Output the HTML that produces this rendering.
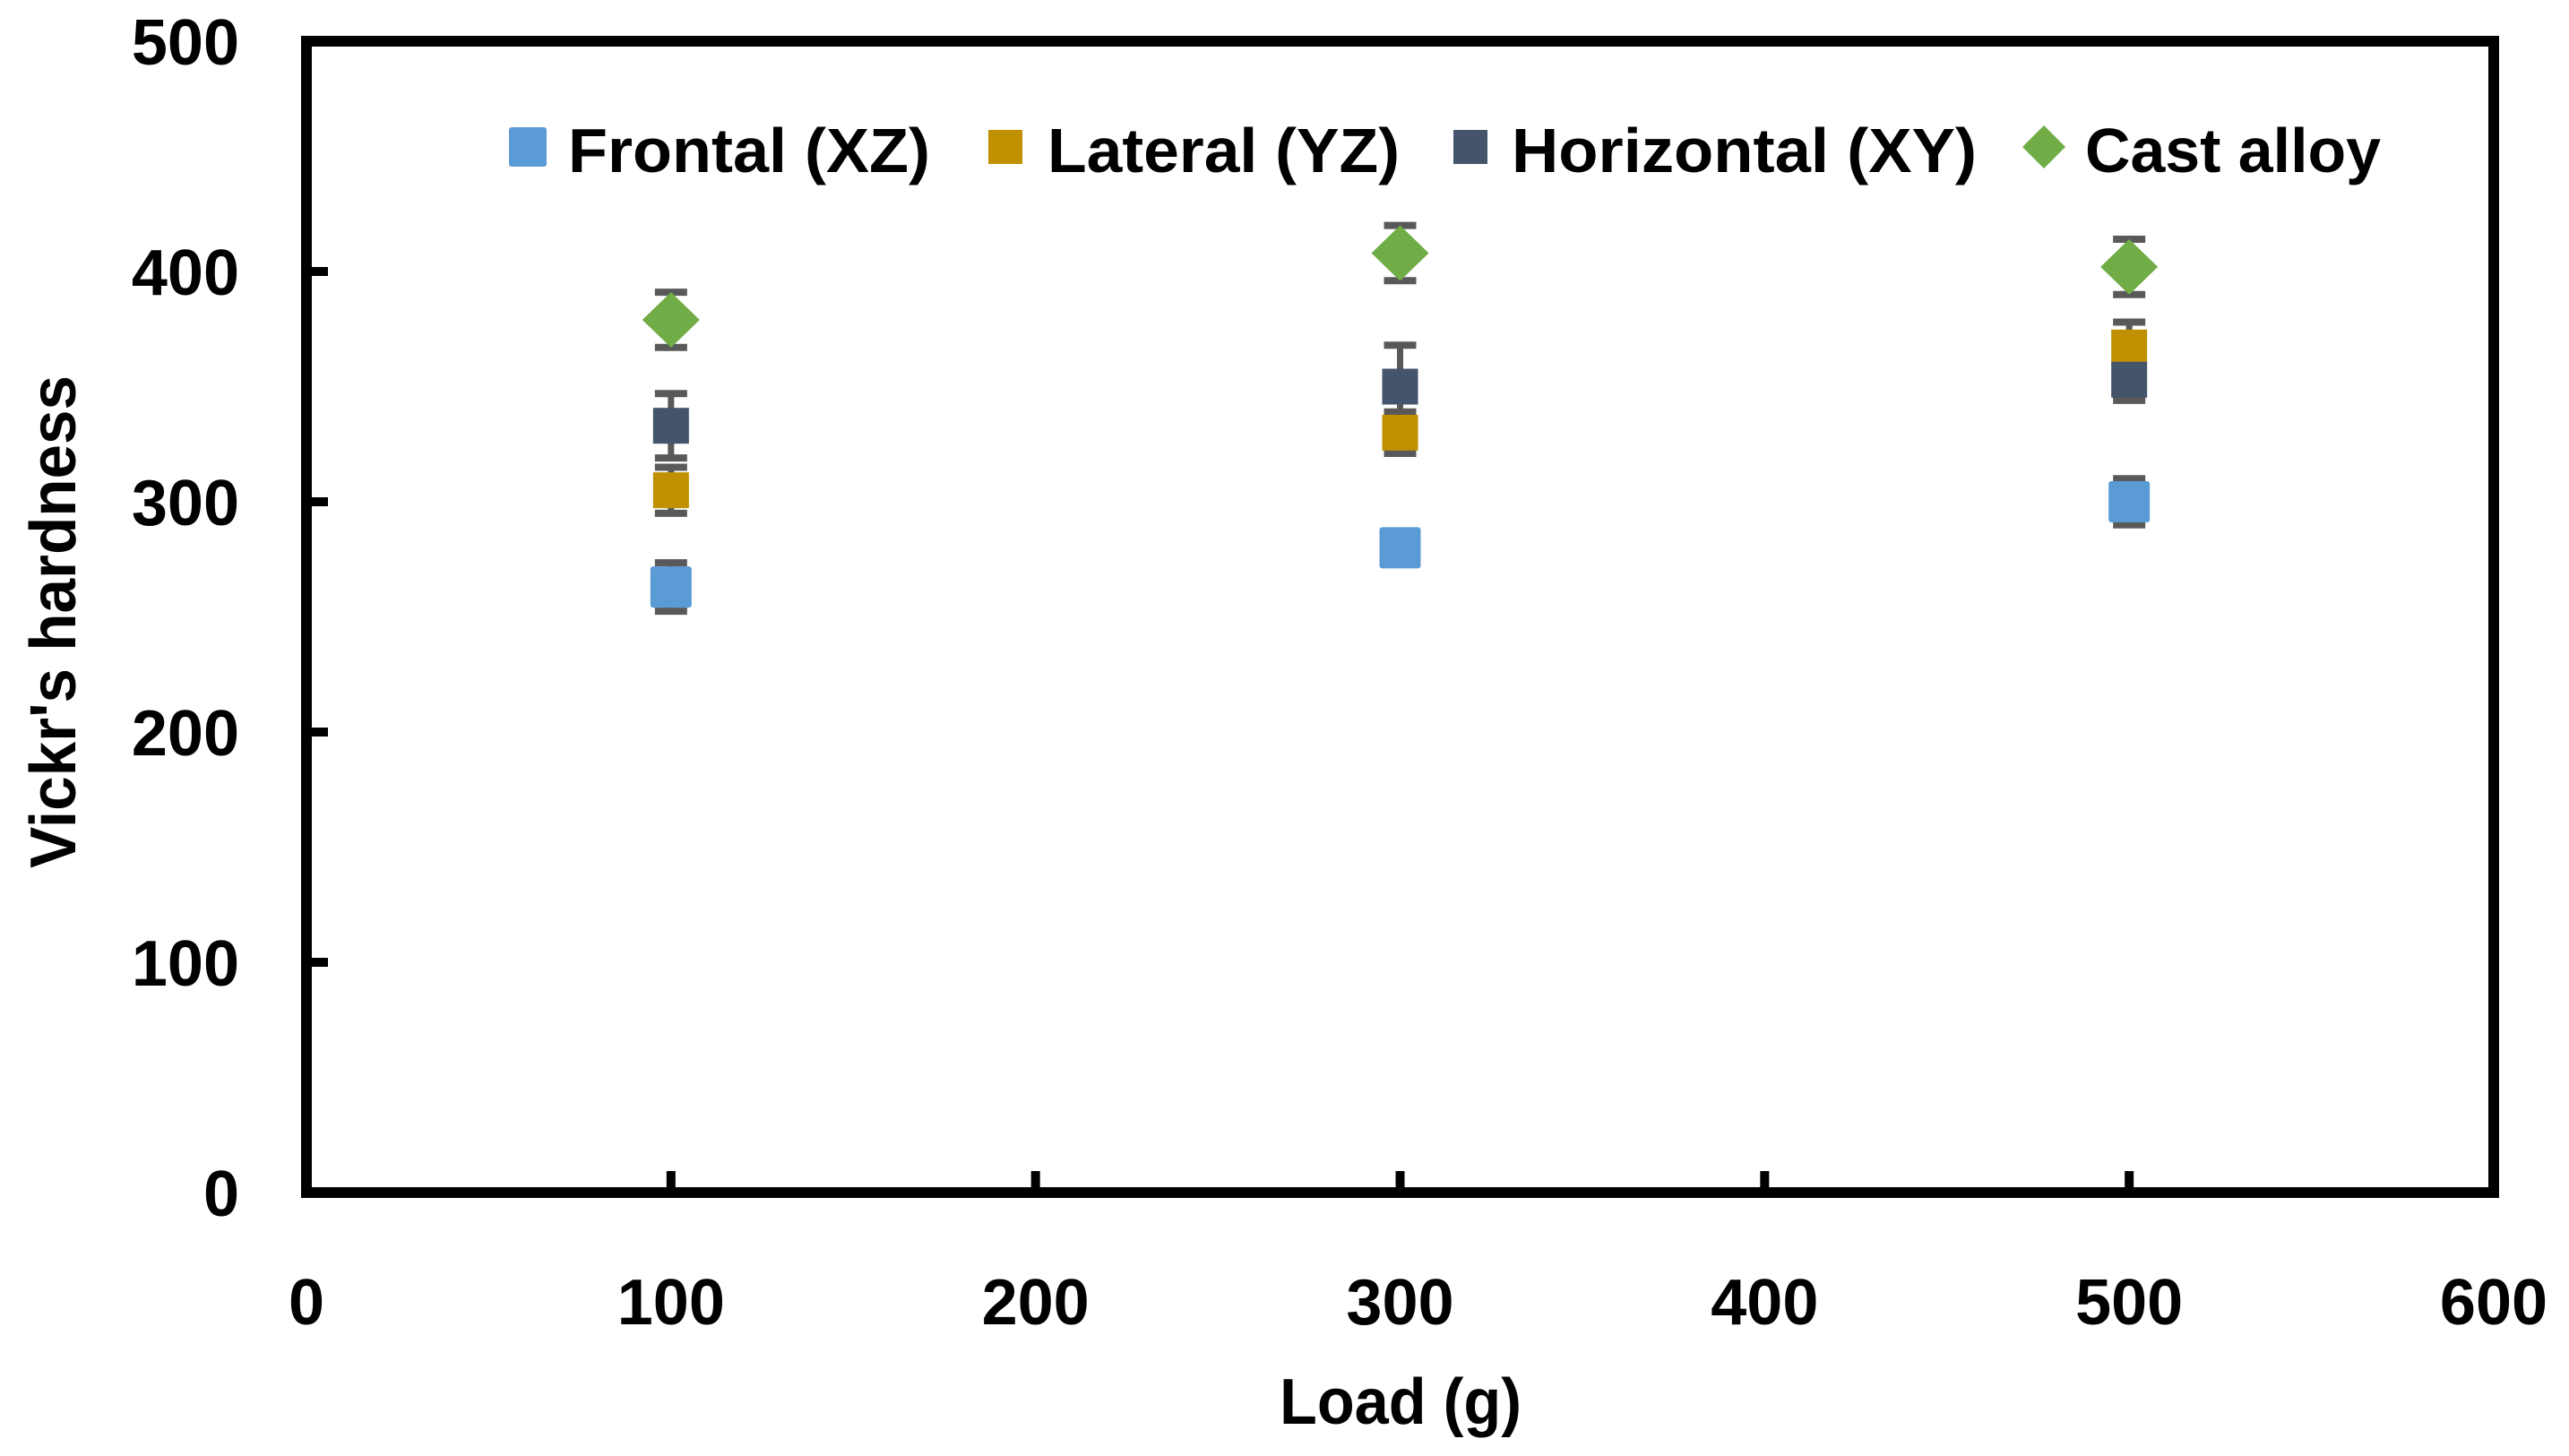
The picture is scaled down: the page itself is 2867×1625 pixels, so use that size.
<!DOCTYPE html>
<html><head><meta charset="utf-8"><style>
html,body{margin:0;padding:0;background:#fff;}
svg{display:block;}
text{font-family:"Liberation Sans",sans-serif;font-weight:bold;fill:#000;}
</style></head><body>
<svg id="chart" width="2867" height="1625" viewBox="0 0 2867 1625" xmlns="http://www.w3.org/2000/svg">
<rect width="2867" height="1625" fill="#fff"/>
<g id="grid-layer"></g>
<g id="err-layer"></g>
<g id="mark-layer"></g>
<rect x="342" y="46" width="2441" height="1285" fill="none" stroke="#000" stroke-width="12"/>
<g id="axis-layer"></g>
<text x="1428" y="1589" font-size="72" textLength="270" lengthAdjust="spacingAndGlyphs">Load (g)</text>
<text transform="translate(84,969) rotate(-90)" x="0" y="0" font-size="72" textLength="550" lengthAdjust="spacingAndGlyphs">Vickr's hardness</text>
<g>
<g>
<rect x="568" y="142" width="42" height="44" rx="3" fill="#5B9BD5"/>
<text x="634" y="192" font-size="70" textLength="404" lengthAdjust="spacingAndGlyphs">Frontal (XZ)</text></g>
<g>
<rect x="1103" y="145" width="38" height="38" fill="#BF9000"/>
<text x="1169" y="192" font-size="70" textLength="393" lengthAdjust="spacingAndGlyphs">Lateral (YZ)</text></g>
<g>
<rect x="1622" y="145" width="38" height="38" fill="#44546A"/>
<text x="1687" y="192" font-size="70" textLength="519" lengthAdjust="spacingAndGlyphs">Horizontal (XY)</text></g>
<g>
<polygon points="2281,140 2305,164 2281,188 2257,164" fill="#70AD47"/>
<text x="2327" y="192" font-size="70" textLength="330" lengthAdjust="spacingAndGlyphs">Cast alloy</text></g>
</g>
</svg>
<script>
const loads = [100, 300, 500];
const frontal = [263, 280, 300];
const frontalErr = [10.5, 3, 10];
const lateral = [305, 330, 367];
const lateralErr = [10, 9, 11];
const horizontal = [333, 350, 353];
const horizontalErr = [14, 18, 9];
const castAlloy = [379, 408, 402];
const castAlloyErr = [12, 12, 12];
const xTicks = [0, 100, 200, 300, 400, 500, 600];
const yTicks = [0, 100, 200, 300, 400, 500];

const NS = 'http://www.w3.org/2000/svg';
const X0 = 342, X1 = 2783, Y0 = 1331, Y1 = 46;
function sx(v){ return X0 + (v - 0) / 600 * (X1 - X0); }
function sy(v){ return Y0 - (v - 0) / 500 * (Y0 - Y1); }
function mk(tag, attrs, parent){
  const e = document.createElementNS(NS, tag);
  for (const k in attrs) e.setAttribute(k, attrs[k]);
  parent.appendChild(e);
  return e;
}
const axis = document.getElementById('axis-layer');
xTicks.forEach(t => {
  const x = sx(t);
  if (t > 0 && t < 600) {
    const tk = mk('line', {x1:x, x2:x, y1:Y0, y2:Y0-24, stroke:'#000', 'stroke-width':10}, axis);
    
    
  }
  const lb = mk('text', {x:x, y:1478, 'font-size':72, 'text-anchor':'middle'}, axis);
  lb.textContent = t;
  
  
});
yTicks.forEach(t => {
  const y = sy(t);
  if (t > 0 && t < 500) {
    const tk = mk('line', {x1:X0, x2:X0+24, y1:y, y2:y, stroke:'#000', 'stroke-width':10}, axis);
    
    
  }
  const lb = mk('text', {x:267, y:y+26, 'font-size':72, 'text-anchor':'end'}, axis);
  lb.textContent = t;
  
  
});

const errL = document.getElementById('err-layer');
const markL = document.getElementById('mark-layer');
const series = [
  {name:'frontal', vals:frontal, err:frontalErr, color:'#5B9BD5', size:46, shape:'sq'},
  {name:'lateral', vals:lateral, err:lateralErr, color:'#BF9000', size:40, shape:'sq'},
  {name:'horizontal', vals:horizontal, err:horizontalErr, color:'#44546A', size:40, shape:'sq'},
  {name:'cast-alloy', vals:castAlloy, err:castAlloyErr, color:'#70AD47', size:64, shape:'dia'}
];
series.forEach(s => {
  loads.forEach((ld, i) => {
    const x = sx(ld), y = sy(s.vals[i]);
    const yt = sy(s.vals[i] + s.err[i]), yb = sy(s.vals[i] - s.err[i]);
    const g = mk('g', {}, errL);
    
    
    mk('line', {x1:x, x2:x, y1:yt, y2:yb, stroke:'#595959', 'stroke-width':7}, g);
    mk('line', {x1:x-18, x2:x+18, y1:yt, y2:yt, stroke:'#595959', 'stroke-width':8}, g);
    mk('line', {x1:x-18, x2:x+18, y1:yb, y2:yb, stroke:'#595959', 'stroke-width':8}, g);
    let m;
    const h = s.size / 2;
    if (s.shape === 'sq') {
      m = mk('rect', {x:x-h, y:y-h, width:s.size, height:s.size, rx: s.name==='frontal'?3:0, fill:s.color}, markL);
    } else {
      m = mk('polygon', {points:`${x},${y-h+1} ${x+h},${y} ${x},${y+h-1} ${x-h},${y}`, fill:s.color}, markL);
    }
    
    
  });
});
</script>
</body></html>
